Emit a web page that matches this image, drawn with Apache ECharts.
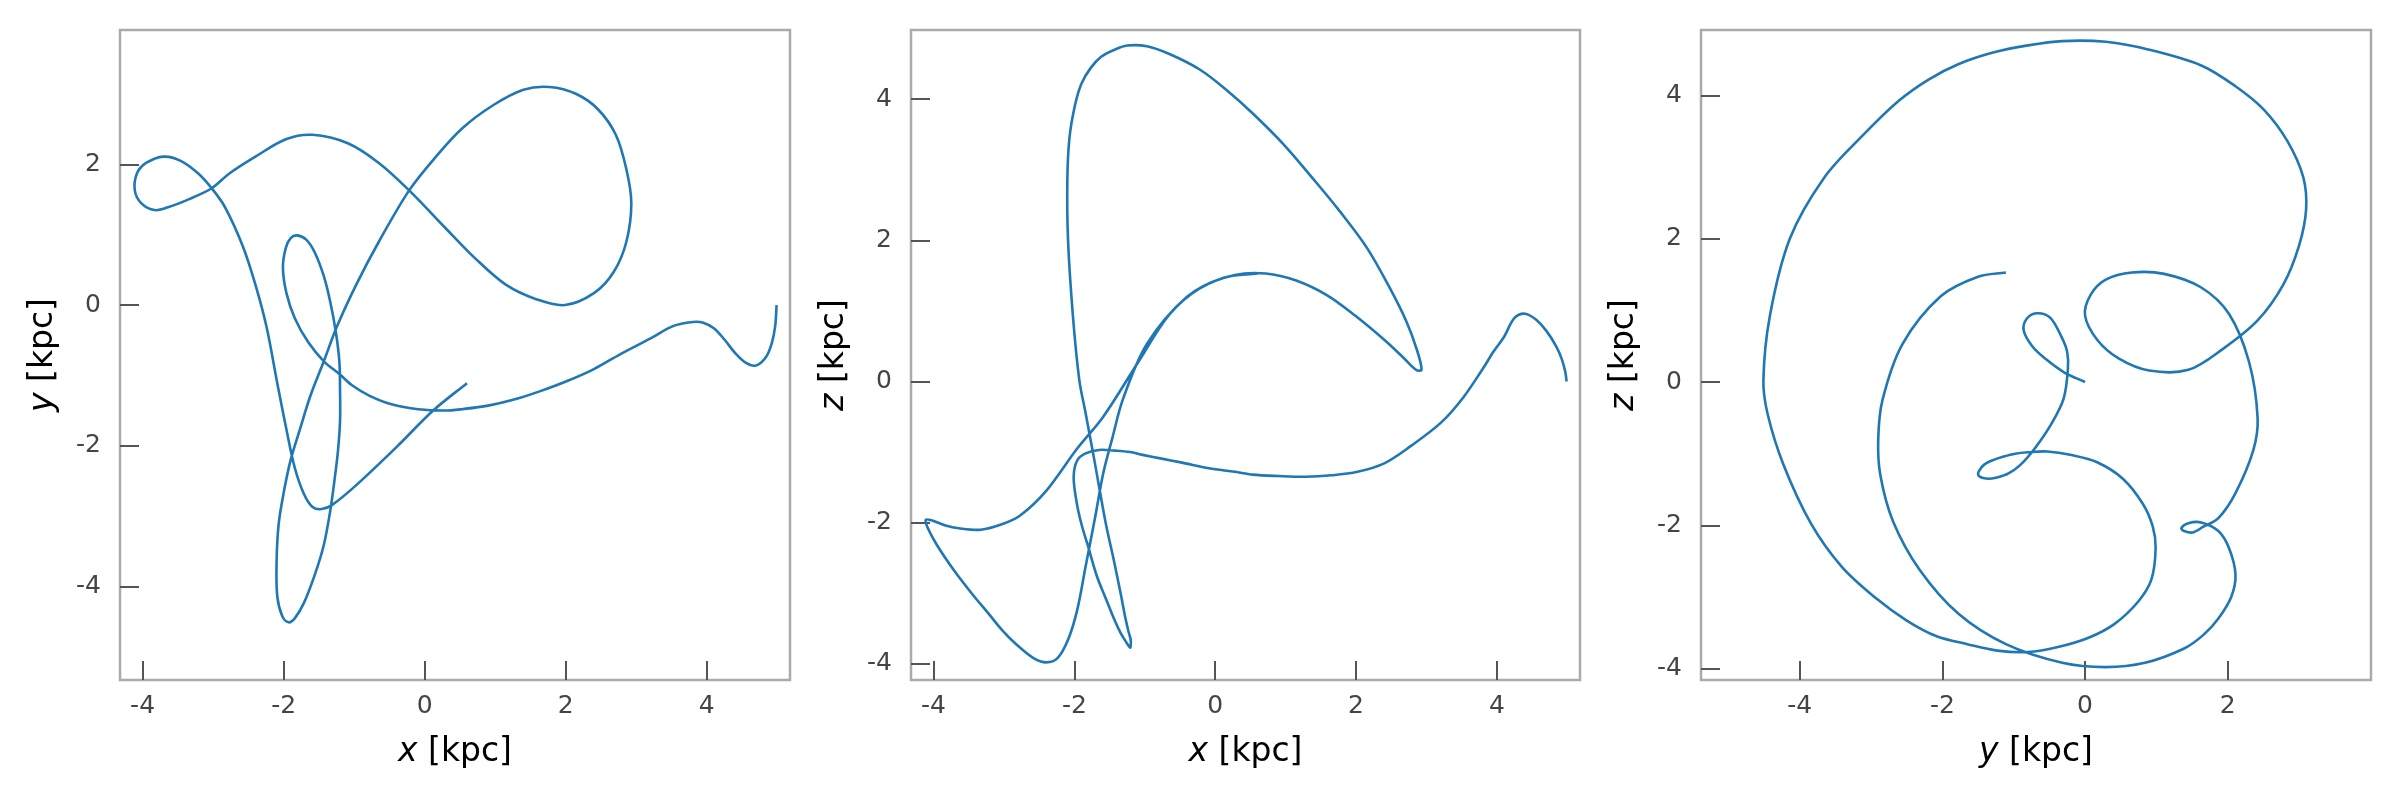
<!DOCTYPE html>
<html>
<head>
<meta charset="utf-8">
<script src="https://cdn.jsdelivr.net/npm/echarts@6/dist/echarts.min.js"></script>
<style>html,body{margin:0;padding:0;background:#fff}#c{width:2400px;height:800px}</style>
</head>
<body>
<div id="c"></div>
<script>
// Orbit samples (kpc), in time order
const orbitX = [4.99,4.97,4.92,4.84,4.70,4.55,4.40,4.25,4.10,3.95,3.80,
  3.52,3.21,2.77,2.40,2.02,1.65,1.28,0.90,0.53,0.28,-0.09,-0.47,-0.78,-1.03,-1.21,-1.43,-1.65,-1.84,-1.96,-2.01,
  -1.97,-1.90,-1.81,-1.68,-1.56,-1.43,-1.34,-1.26,-1.21,-1.20,-1.20,-1.23,-1.28,-1.34,-1.43,-1.56,-1.71,-1.84,-1.93,
  -2.02,-2.09,-2.10,-2.07,-1.99,-1.90,-1.77,-1.62,-1.43,-1.25,-0.97,-0.65,-0.22,0.16,0.53,0.97,1.40,1.77,
  2.15,2.46,2.71,2.86,2.93,2.86,2.68,2.40,1.99,1.59,1.15,0.72,0.28,-0.22,-0.65,-1.09,-1.59,-1.96,-2.40,-2.77,
  -3.02,-3.33,-3.64,-3.83,-4.02,-4.11,
  -4.08,-3.95,-3.70,-3.46,-3.21,-3.02,-2.83,-2.58,-2.40,-2.24,-2.09,-1.96,-1.84,-1.71,-1.59,-1.46,-1.31,-0.97,-0.40,0.12,0.60];
const orbitY = [0.00,-0.30,-0.55,-0.74,-0.86,-0.82,-0.68,-0.49,-0.33,-0.25,-0.24,
  -0.30,-0.47,-0.70,-0.91,-1.08,-1.22,-1.34,-1.43,-1.48,-1.50,-1.48,-1.41,-1.29,-1.14,-0.98,-0.80,-0.53,-0.19,0.17,0.53,
  0.81,0.95,0.99,0.93,0.75,0.41,0.05,-0.38,-0.80,-1.23,-1.65,-2.08,-2.50,-2.93,-3.41,-3.84,-4.23,-4.45,-4.51,
  -4.42,-4.14,-3.66,-3.11,-2.62,-2.20,-1.77,-1.29,-0.80,-0.32,0.29,0.90,1.63,2.11,2.51,2.84,3.06,3.10,
  3.00,2.78,2.42,1.93,1.45,0.90,0.47,0.17,0.00,0.08,0.29,0.66,1.11,1.63,2.02,2.30,2.42,2.36,2.11,1.87,
  1.66,1.51,1.39,1.35,1.45,1.63,
  1.87,2.02,2.11,2.05,1.87,1.66,1.39,0.84,0.29,-0.32,-1.11,-1.77,-2.32,-2.69,-2.87,-2.90,-2.84,-2.56,-2.02,-1.50,-1.11];
const orbitZ = [0.00,0.14,0.32,0.50,0.72,0.88,0.96,0.90,0.63,0.42,0.18,
  -0.23,-0.58,-0.92,-1.16,-1.28,-1.33,-1.35,-1.34,-1.32,-1.28,-1.23,-1.15,-1.09,-1.04,-1.00,-0.98,-0.97,-1.02,-1.12,-1.35,
  -1.70,-2.02,-2.32,-2.76,-3.06,-3.38,-3.57,-3.70,-3.77,-3.75,-3.66,-3.55,-3.33,-3.02,-2.58,-1.98,-1.15,-0.45,0.02,
  0.92,2.00,2.85,3.45,3.92,4.22,4.44,4.60,4.70,4.76,4.75,4.64,4.42,4.13,3.80,3.36,2.86,2.41,
  1.90,1.36,0.86,0.46,0.17,0.16,0.33,0.59,0.93,1.22,1.43,1.53,1.51,1.32,0.95,0.28,-0.50,-0.95,-1.55,-1.90,
  -2.02,-2.10,-2.08,-2.04,-1.97,-1.96,
  -2.08,-2.32,-2.69,-3.00,-3.30,-3.53,-3.72,-3.92,-3.98,-3.92,-3.66,-3.24,-2.62,-1.95,-1.30,-0.80,-0.25,0.53,1.20,1.47,1.53];

const ticksX = [-4,-2,0,2,4];
const ticksY = [-4,-2,0,2];
const ticksZ = [-4,-2,0,2,4];
const ticksY3 = [-4,-2,0,2];

const lineColor = '#1f77b4';
const FONT = 'DejaVu Sans';

function pairs(a,b){ return a.map((v,i)=>[v,b[i]]); }

// smooth curve through the points, positioned with the axes' own scales (api.coord)
function curveRenderer(dataPairs){
  return function(params, api){
    if (params.dataIndex !== 0) return null;
    const p = dataPairs.map(d => api.coord(d));
    const n = p.length;
    const dist = (a,b) => Math.hypot(b[0]-a[0], b[1]-a[1]) || 1e-6;
    const f = v => v.toFixed(2);
    let path = 'M' + f(p[0][0]) + ',' + f(p[0][1]);
    for (let i = 0; i < n - 1; i++) {
      const p1 = p[i], p2 = p[i+1];
      const p0 = i > 0 ? p[i-1] : p1;
      const p3 = i + 2 < n ? p[i+2] : p2;
      const d12 = dist(p1,p2);
      const d01 = i > 0 ? dist(p0,p1) : 0;
      const d23 = i + 2 < n ? dist(p2,p3) : 0;
      const k1 = d12 / (3 * (d01 + d12));
      const k2 = d12 / (3 * (d12 + d23));
      const c1 = [p1[0] + (p2[0]-p0[0]) * k1, p1[1] + (p2[1]-p0[1]) * k1];
      const c2 = [p2[0] - (p3[0]-p1[0]) * k2, p2[1] - (p3[1]-p1[1]) * k2];
      path += ' C' + f(c1[0]) + ',' + f(c1[1]) + ' ' + f(c2[0]) + ',' + f(c2[1]) + ' ' + f(p2[0]) + ',' + f(p2[1]);
    }
    return {type:'path', shape:{pathData:path}, style:{stroke:lineColor, lineWidth:2.6, fill:'none', lineJoin:'round'}, silent:true};
  };
}

function axisCommon(ticks, isX){
  return {
    type:'value', scale:false,
    position: isX ? 'bottom' : 'left',
    axisLine:{show:false, onZero:false}, splitLine:{show:false},
    axisTick:{show:true, inside:true, length:19, lineStyle:{color:'#555', width:2}, customValues:ticks},
    axisLabel:{show:true, customValues:ticks, margin: isX ? 14 : 19, fontSize:25, color:'#444', fontFamily:FONT},
    nameLocation:'middle',
    nameGap: isX ? 56 : 60,
    nameTextStyle:{color:'#000', fontSize:33, fontFamily:FONT,
      rich:{i:{fontStyle:'italic', fontSize:33, fontFamily:FONT, color:'#000'}}}
  };
}
function xAx(gi,min,max,name,ticks){ return Object.assign(axisCommon(ticks,true),{gridIndex:gi,min:min,max:max,name:name}); }
function yAx(gi,min,max,name,ticks){ return Object.assign(axisCommon(ticks,false),{gridIndex:gi,min:min,max:max,name:name,nameRotate:90}); }

const gridStyle = {show:true, borderColor:'#aaaaaa', borderWidth:2.5, backgroundColor:'rgba(0,0,0,0)'};

const p1 = pairs(orbitX, orbitY), p2 = pairs(orbitX, orbitZ), p3 = pairs(orbitY, orbitZ);

const option = {
  animation:false,
  backgroundColor:'#fff',
  grid:[
    Object.assign({left:120, top:30, width:670, height:650}, gridStyle),
    Object.assign({left:911, top:30, width:669, height:650}, gridStyle),
    Object.assign({left:1701, top:30, width:670, height:650}, gridStyle)
  ],
  xAxis:[
    xAx(0,-4.32,5.18,'{i|x} [kpc]',ticksX),
    xAx(1,-4.32,5.18,'{i|x} [kpc]',ticksX),
    xAx(2,-5.385,4.01,'{i|y} [kpc]',ticksY3)
  ],
  yAxis:[
    yAx(0,-5.33,3.91,'{i|y} [kpc]',ticksY),
    yAx(1,-4.23,4.98,'{i|z} [kpc]',ticksZ),
    yAx(2,-4.16,4.915,'{i|z} [kpc]',ticksZ)
  ],
  series:[
    {type:'custom', coordinateSystem:'cartesian2d', xAxisIndex:0, yAxisIndex:0, data:p1, renderItem:curveRenderer(p1)},
    {type:'custom', coordinateSystem:'cartesian2d', xAxisIndex:1, yAxisIndex:1, data:p2, renderItem:curveRenderer(p2)},
    {type:'custom', coordinateSystem:'cartesian2d', xAxisIndex:2, yAxisIndex:2, data:p3, renderItem:curveRenderer(p3)}
  ].map(s=>Object.assign(s,{encode:{x:0,y:1}, clip:true, silent:true}))
};
const chart = echarts.init(document.getElementById('c'), null, {renderer:'canvas'});
chart.setOption(option);
</script>
</body>
</html>
